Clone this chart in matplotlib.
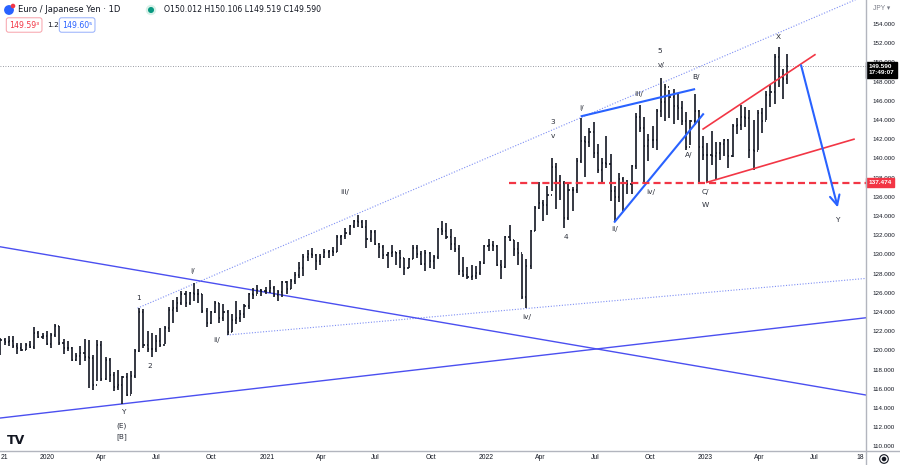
import matplotlib
matplotlib.use('Agg')
import matplotlib.pyplot as plt
import matplotlib.dates as mdates
from matplotlib.collections import LineCollection
from matplotlib.patches import Circle
from matplotlib.lines import Line2D
import pandas as pd

plt.rcParams['font.family'] = ['DejaVu Sans']

''' Data read off the chart (weekly bars, EUR/JPY) '''
first_week = '2019-10-18'  # Friday of the first weekly bar

week_high = [
    121.3, 121.3, 121.5, 121.5, 120.8, 120.8, 120.8, 121.0, 122.4, 122.0, 121.8,  # 2019
    122.0, 121.8, 122.8, 122.5, 121.2, 121.0, 120.4, 119.7, 120.5, 121.2, 121.1, 119.5, 121.1,
    121.0, 119.3, 119.2, 117.8, 118.0, 117.3, 117.6, 117.9, 120.1, 124.4, 124.3, 122.0, 121.8,
    121.6, 122.3, 122.5, 124.5, 125.2, 125.6, 126.2, 126.2, 126.1, 127.0, 126.4, 125.9, 124.4,
    124.1, 125.1, 124.9, 124.8, 124.2, 123.8, 125.1, 124.2, 124.8, 126.0, 126.5, 126.8, 126.4,  # 2020
    126.6, 127.3, 126.7, 126.3, 127.2, 127.2, 127.4, 128.2, 129.2, 130.0, 130.5, 130.7, 130.0,
    130.0, 130.6, 130.5, 130.8, 132.0, 132.0, 132.8, 133.1, 133.6, 134.1, 133.6, 133.6, 132.5,
    132.5, 131.2, 131.0, 130.3, 131.0, 130.3, 130.5, 129.6, 129.6, 131.0, 131.0, 130.4, 130.5,
    130.3, 129.9, 132.7, 133.5, 133.3, 132.6, 131.8, 131.0, 129.7, 128.7, 128.9, 128.8, 129.3, 131.0,  # 2021
    131.6, 131.4, 131.0, 129.4, 131.9, 133.1, 131.5, 131.3, 130.0, 129.5, 132.5, 135.0, 137.5,
    135.7, 137.1, 140.0, 139.5, 138.3, 137.6, 137.3, 137.0, 140.0, 144.2, 142.3, 143.2, 143.8,
    141.5, 140.0, 142.3, 140.5, 137.1, 138.5, 138.1, 137.8, 139.3, 144.7, 145.6, 144.3, 142.5,
    143.4, 145.1, 148.4, 147.7, 147.1, 147.2, 146.8, 146.0, 144.8, 144.0, 146.7, 145.0, 142.3,  # 2022
    141.6, 142.9, 141.7, 141.7, 142.0, 142.0, 143.6, 144.2, 145.6, 145.4, 145.0, 144.0, 145.0,
    145.3, 147.0, 147.6, 150.9, 151.6, 149.3, 150.9,  # 2023
]
week_low = [
    119.5, 120.6, 120.5, 120.3, 119.6, 119.9, 120.0, 120.3, 120.1, 121.3, 121.2,
    120.6, 120.3, 121.4, 120.6, 119.6, 119.9, 118.9, 118.9, 118.5, 118.9, 116.1, 115.9, 116.8,
    116.8, 116.9, 116.7, 115.8, 115.9, 114.4, 115.2, 115.5, 117.1, 119.8, 120.3, 119.8, 119.3,
    119.8, 120.4, 120.7, 121.9, 122.9, 124.0, 124.7, 124.5, 124.7, 125.1, 124.9, 123.9, 122.4,
    122.7, 123.9, 122.9, 123.1, 121.6, 121.9, 122.7, 123.0, 123.4, 124.3, 125.4, 125.9, 125.7,
    125.9, 126.0, 125.6, 125.1, 125.6, 125.9, 126.4, 126.9, 127.5, 127.8, 129.3, 129.6, 128.4,
    128.9, 129.6, 129.6, 129.8, 130.2, 131.0, 131.6, 132.0, 132.8, 132.9, 132.7, 130.7, 131.3,
    131.0, 129.6, 129.5, 128.6, 129.7, 128.9, 128.6, 127.9, 128.6, 129.5, 129.6, 128.9, 128.3,
    128.6, 128.5, 129.5, 132.0, 131.6, 130.5, 130.2, 127.9, 127.6, 127.4, 127.3, 127.4, 127.9, 129.0,
    130.4, 130.4, 128.8, 127.4, 128.6, 131.4, 129.8, 128.9, 125.4, 124.4, 128.5, 132.4, 134.7,
    133.5, 134.1, 136.6, 134.7, 135.7, 132.7, 133.6, 134.5, 136.4, 139.5, 138.1, 141.2, 140.0,
    138.5, 137.5, 139.0, 135.6, 133.4, 135.5, 134.5, 136.3, 136.3, 138.9, 142.7, 137.4, 139.7,
    141.1, 140.9, 144.3, 143.9, 144.2, 143.6, 144.0, 143.5, 140.9, 141.4, 143.5, 137.4, 139.8,
    137.4, 139.3, 137.8, 139.8, 140.2, 139.0, 140.1, 142.5, 143.0, 143.3, 140.0, 138.8, 140.9,
    142.6, 144.0, 145.4, 145.7, 147.4, 146.2, 147.8,
]
week_close = [
    121.1, 120.9, 121.0, 120.5, 120.3, 120.0, 120.6, 120.4, 121.8, 121.4, 121.5,
    120.7, 121.6, 122.5, 120.8, 120.2, 120.3, 119.0, 119.4, 119.7, 119.3, 119.2, 116.4, 120.6,
    117.0, 119.0, 117.4, 116.2, 116.4, 117.2, 115.4, 117.3, 119.9, 124.0, 120.6, 120.1, 120.1,
    121.0, 120.6, 122.3, 124.2, 124.4, 124.9, 125.9, 124.9, 126.0, 125.9, 125.9, 124.1, 122.9,
    124.0, 124.9, 123.4, 124.0, 121.9, 123.2, 123.4, 123.8, 124.6, 125.9, 125.8, 126.3, 126.2,
    126.2, 126.5, 125.8, 126.1, 127.1, 126.4, 127.2, 127.9, 128.6, 129.7, 130.0, 129.9, 129.3,
    129.7, 130.2, 130.4, 130.2, 131.8, 131.9, 132.2, 133.0, 133.5, 133.4, 132.9, 131.6, 132.3,
    131.1, 130.8, 129.9, 130.1, 130.2, 130.1, 129.6, 128.6, 129.5, 130.7, 130.0, 129.0, 130.1,
    129.3, 129.7, 132.6, 132.4, 131.8, 131.1, 130.6, 128.3, 127.9, 127.6, 127.7, 128.1, 129.1, 130.9,
    131.0, 130.9, 128.9, 128.7, 131.8, 131.5, 130.6, 130.1, 125.6, 128.8, 132.4, 134.8, 135.4,
    135.1, 136.2, 139.1, 137.6, 137.4, 133.8, 136.7, 136.7, 139.7, 141.8, 141.7, 142.7, 140.6,
    138.8, 139.5, 139.4, 136.6, 136.0, 137.9, 137.4, 137.3, 139.2, 144.3, 143.2, 141.3, 141.9,
    141.9, 144.9, 145.9, 147.4, 146.4, 145.5, 145.2, 143.9, 141.2, 143.9, 144.9, 141.2, 140.4,
    140.4, 140.3, 140.6, 141.5, 141.9, 140.3, 143.4, 143.5, 144.3, 144.2, 140.9, 140.8, 144.7,
    143.9, 146.6, 146.9, 150.6, 148.5, 148.3, 149.6,
]

last_price = 149.590
support_level = 137.474
price_ticks = list(range(110, 156, 2))

tick_dates = ['2019-10-22', '2020-01-01', '2020-04-01', '2020-07-01', '2020-10-01',
              '2021-01-01', '2021-04-01', '2021-07-01', '2021-10-01', '2022-01-01',
              '2022-04-01', '2022-07-01', '2022-10-01', '2023-01-01', '2023-04-01',
              '2023-07-01', '2023-09-15']
tick_labels = ['21', '2020', 'Apr', 'Jul', 'Oct', '2021', 'Apr', 'Jul', 'Oct', '2022',
               'Apr', 'Jul', 'Oct', '2023', 'Apr', 'Jul', '18']

# trend lines drawn on the chart: (start date, start price, end date, end price)
upper_channel = ('2020-05-31', 124.4, '2023-09-25', 157.0)
lower_channel = ('2020-10-27', 121.6, '2023-09-25', 127.5)
falling_line = ('2019-10-15', 130.8, '2023-09-25', 115.35)
rising_line = ('2019-10-15', 112.95, '2023-09-25', 123.4)
wedge_top = ('2022-06-09', 144.4, '2022-12-13', 147.2)
wedge_bottom = ('2022-08-03', 133.4, '2022-12-28', 144.6)
red_top = ('2022-12-28', 143.06, '2023-07-02', 150.8)
red_bottom = ('2023-01-03', 137.5, '2023-09-05', 142.0)
support_start = '2022-02-08'
forecast_arrow = ('2023-06-09', 149.7, '2023-08-09', 134.9)

# Elliott wave labels (text, date, price)
wave_labels = [
    ('1', '2020-06-02', 125.5), ('2', '2020-06-20', 118.4), ('i/', '2020-08-30', 128.3),
    ('ii/', '2020-10-10', 121.1), ('iii/', '2021-05-11', 136.5), ('iv/', '2022-03-10', 123.5),
    ('3', '2022-04-22', 143.8), ('v', '2022-04-22', 142.3), ('4', '2022-05-14', 131.8),
    ('i/', '2022-06-09', 145.25), ('ii/', '2022-08-03', 132.6), ('iii/', '2022-09-12', 146.7),
    ('iv/', '2022-10-02', 136.5), ('5', '2022-10-17', 151.2), ('v/', '2022-10-19', 149.7),
    ('B/', '2022-12-16', 148.5), ('A/', '2022-12-04', 140.35), ('C/', '2023-01-01', 136.5),
    ('W', '2023-01-01', 135.15), ('X', '2023-05-02', 152.6), ('Y', '2023-08-09', 133.6),
    ('Y', '2020-05-07', 113.6), ('(E)', '2020-05-05', 112.2), ('[B]', '2020-05-05', 111.0),
]

''' Figure '''
W, H = 900, 465
fig = plt.figure(figsize=(W / 100, H / 100), dpi=100)
fig.patch.set_facecolor('white')
ax = fig.add_axes([0, 14 / H, 866 / W, 451 / H])
ax.set_facecolor('white')
scale_font = 'Liberation Sans'

def d(s):
    return mdates.date2num(pd.Timestamp(s))

dates = pd.date_range(first_week, periods=len(week_close), freq='W-FRI') - pd.Timedelta(days=2)
xs = mdates.date2num(dates)
opens = [week_close[0]] + week_close[:-1]

segs = []
for x, o, h, l, c in zip(xs, opens, week_high, week_low, week_close):
    segs.append([(x, l), (x, h)])
    segs.append([(x - 1.8, o), (x, o)])
    segs.append([(x, c), (x + 1.8, c)])
ax.add_collection(LineCollection(segs, colors='#131722', linewidths=1.2, zorder=3))

def seg(line, **kw):
    ax.plot([d(line[0]), d(line[2])], [line[1], line[3]], **kw)

seg(upper_channel, color='#7f8ff4', lw=0.8, ls=(0, (1, 1.5)), zorder=2)
seg(lower_channel, color='#7f8ff4', lw=0.8, ls=(0, (1, 1.5)), zorder=2)
seg(falling_line, color='#4b4ff0', lw=1.0, zorder=2)
seg(rising_line, color='#4b4ff0', lw=1.0, zorder=2)
seg(wedge_top, color='#2962ff', lw=1.5, zorder=4)
seg(wedge_bottom, color='#2962ff', lw=1.5, zorder=4)
seg(red_top, color='#f23645', lw=1.2, zorder=4)
seg(red_bottom, color='#f23645', lw=1.2, zorder=4)

ax.hlines(support_level, d(support_start), d('2023-09-25'), color='#f23645', lw=1.6,
          linestyles=(0, (3.2, 1.8)), zorder=4)
ax.axhline(last_price, color='#787b86', lw=0.6, ls=(0, (1, 2)), zorder=1)

ax.annotate('', xy=(d(forecast_arrow[2]), forecast_arrow[3]),
            xytext=(d(forecast_arrow[0]), forecast_arrow[1]),
            arrowprops=dict(arrowstyle='->,head_length=0.7,head_width=0.35',
                            color='#2962ff', lw=1.5, shrinkA=0, shrinkB=0), zorder=5)

for txt, dt, p in wave_labels:
    ax.text(d(dt), p, txt, fontsize=5.3, color='#2a2e39', ha='center', va='center', zorder=6)

ax.set_xlim(d('2019-10-15 07:00'), d('2023-09-25'))
ax.set_ylim(109.52, 156.5)
for s in ax.spines.values():
    s.set_visible(False)

ax.set_xticks([d(t) for t in tick_dates])
ax.set_xticklabels(tick_labels, family=scale_font)
ax.tick_params(axis='x', length=0, pad=2.5, labelsize=4.9, labelcolor='#131722')
ax.yaxis.tick_right()
ax.set_yticks(price_ticks)
ax.set_yticklabels([f'{v:.3f}' for v in price_ticks], family=scale_font)
ax.tick_params(axis='y', length=0, pad=4.3, labelsize=4.5, labelcolor='#131722')

# axis frame lines
fig.add_artist(Line2D([866 / W, 866 / W], [0, 1], color='#b2b5be', lw=1.0))
fig.add_artist(Line2D([0, 1], [14 / H, 14 / H], color='#b2b5be', lw=1.0))

# price labels on the scale
ax.text(1.003, last_price - 0.35, '149.590\n17:49:07', transform=ax.get_yaxis_transform(),
        fontsize=4.6, family=scale_font, color='white', fontweight='bold', ha='left',
        va='center', linespacing=1.15,
        bbox=dict(boxstyle='square,pad=0.4', fc='black', ec='black'), zorder=10, clip_on=False)
ax.text(1.003, support_level, '137.474', transform=ax.get_yaxis_transform(),
        fontsize=4.6, family=scale_font, color='white', fontweight='bold', ha='left',
        va='center', bbox=dict(boxstyle='square,pad=0.35', fc='#f23645', ec='#f23645'),
        zorder=10, clip_on=False)

# header
def fx(px):
    return px / W

def fy(py):
    return 1 - py / H

fig.add_artist(Circle((9, H - 10), 4.2, transform=None, color='#2962ff'))
fig.add_artist(Circle((13, H - 6), 1.6, transform=None, color='#f23645'))
fig.text(fx(18), fy(10), 'Euro / Japanese Yen · 1D', fontsize=6.0, color='#131722', va='center')
fig.add_artist(Circle((151, H - 10), 4.5, transform=None, color='#d7f1e8'))
fig.add_artist(Circle((151, H - 10), 2.3, transform=None, color='#089981'))
fig.text(fx(164), fy(10), 'O150.012 H150.106 L149.519 C149.590', fontsize=5.6,
         color='#131722', va='center')
fig.text(fx(9), fy(25), '149.59³', fontsize=5.6, color='#f23645', va='center',
         bbox=dict(boxstyle='round,pad=0.35,rounding_size=0.3', fc='white', ec='#f7a1a9', lw=0.7))
fig.text(fx(47), fy(25), '1.2', fontsize=5.3, color='#131722', va='center')
fig.text(fx(62), fy(25), '149.60⁵', fontsize=5.6, color='#2962ff', va='center',
         bbox=dict(boxstyle='round,pad=0.35,rounding_size=0.3', fc='white', ec='#94aefc', lw=0.7))
fig.text(fx(873), fy(9), 'JPY ▾', fontsize=4.8, family=[scale_font, 'DejaVu Sans'],
         color='#787b86', va='center')

# logo and settings icon
fig.text(fx(7), fy(440), 'TV', fontsize=9, fontweight='heavy', color='#131722', va='center')
fig.add_artist(Circle((884, H - 459), 4.3, transform=None, fill=False, ec='#131722', lw=0.8))
fig.add_artist(Circle((884, H - 459), 1.6, transform=None, color='#131722'))

fig.savefig('out.png', dpi=100, facecolor='white')
